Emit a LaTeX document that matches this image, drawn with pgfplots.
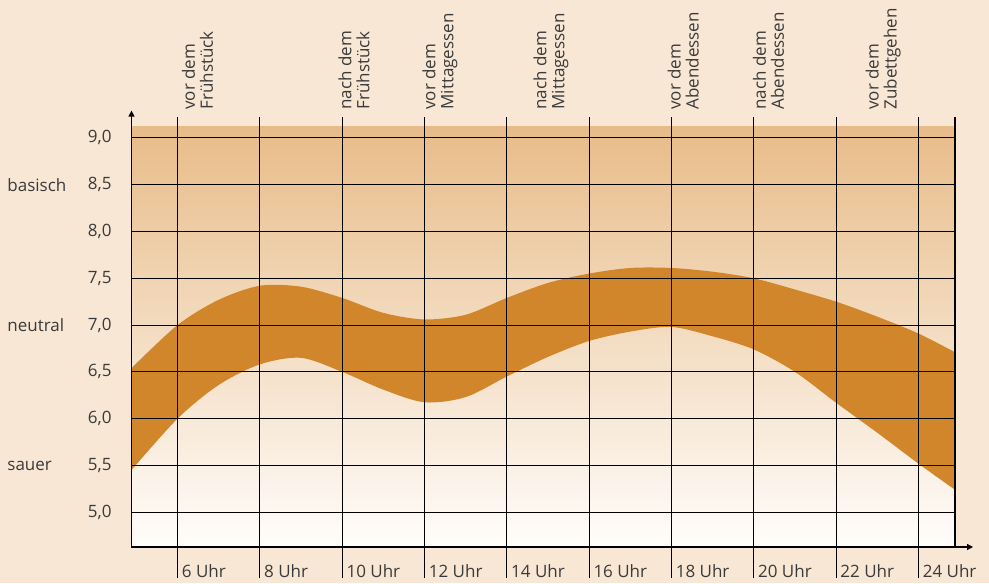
\documentclass[border=0pt]{standalone}
\usepackage{fontspec}
\setmainfont{Open Sans}
\usepackage{pgfplots}
\pgfplotsset{compat=1.18}
\usepgfplotslibrary{fillbetween}
\usetikzlibrary{arrows.meta}
\definecolor{bg}{HTML}{F8E7D4}
\definecolor{band}{HTML}{D2862B}
\definecolor{txt}{HTML}{3A3A3A}
\definecolor{shtop}{HTML}{E8BC89}
\definecolor{shmid}{HTML}{F1D8BA}
\definecolor{shbot}{HTML}{FFFDFB}
\begin{document}
\begin{tikzpicture}[font=\fontsize{8.5}{9}\selectfont]
\fill[bg] (-65.75pt,-18pt) rectangle (428.75pt,273.5pt);
\begin{axis}[
  at={(0pt,0pt)}, anchor=south west,
  scale only axis, width=411.75pt, height=210pt,
  xmin=4.882, xmax=24.89, ymin=4.629, ymax=9.116,
  clip=false,
  axis line style={draw=none},
  major tick length=0pt,
  xtick={6,8,10,12,14,16,18,20,22,24},
  xticklabels={6 Uhr,8 Uhr,10 Uhr,12 Uhr,14 Uhr,16 Uhr,18 Uhr,20 Uhr,22 Uhr,24 Uhr},
  ytick={5,5.5,6,6.5,7,7.5,8,8.5,9},
  yticklabel style={/pgf/number format/fixed, /pgf/number format/fixed zerofill, /pgf/number format/precision=1, /pgf/number format/use comma, /pgf/number format/assume math mode=true},
  yticklabel style={anchor=east, inner sep=0pt, xshift=-9.75pt, text=txt},
  xticklabel style={anchor=west, inner sep=0pt, xshift=2pt, yshift=-12.25pt, text=txt},
]
\shade[top color=shtop, middle color=shmid, bottom color=shbot] (rel axis cs:0,0) rectangle (rel axis cs:1,1);

\addplot[name path=up, draw=none, smooth] coordinates {
 (4.882,6.54) (6,7.0) (7,7.27) (8,7.42) (9,7.41) (10,7.29)
 (11,7.13) (12,7.06) (13,7.11) (14,7.29) (15,7.45) (16,7.55) (17,7.61)
 (18,7.61) (19,7.57) (20,7.5) (21,7.38) (22,7.25) (23,7.09) (24,6.91) (24.89,6.71)};
\addplot[name path=lo, draw=none, smooth] coordinates {
 (4.882,5.45) (6,6.0) (7,6.36) (8,6.58) (9,6.65) (10,6.5)
 (11,6.31) (12,6.175) (13,6.23) (14,6.45) (15,6.66) (16,6.83) (17,6.93)
 (18,6.98) (19,6.88) (20,6.74) (21,6.5) (22,6.17) (23,5.85) (24,5.52) (24.89,5.24)};
\addplot[band, draw=none] fill between[of=up and lo, on layer=main];

\pgfplotsinvokeforeach{5,5.5,6,6.5,7,7.5,8,8.5,9}{
  \draw[black, line width=0.55pt] (axis cs:4.882,#1) -- (axis cs:24.89,#1);
}
\pgfplotsinvokeforeach{6,8,10,12,14,16,18,20,22,24}{
  \draw[black, line width=0.55pt] (axis cs:#1,4.629) ++(0pt,-15.5pt) -- ++(0pt,230.5pt);
}
\draw[black, line width=0.55pt] (axis cs:24.89,4.629) -- ++(0pt,215pt);
\draw[black, line width=0.55pt, -{Triangle[length=3pt,width=3pt]}] (axis cs:4.882,4.629) -- ++(0pt,218.2pt);
\draw[black, line width=0.55pt, -{Triangle[length=3pt,width=3pt]}] (axis cs:4.882,4.629) -- ++(420.75pt,0pt);

\node[anchor=west, inner sep=0pt, text=txt] at (axis cs:1.857,8.5) {basisch};
\node[anchor=west, inner sep=0pt, text=txt] at (axis cs:1.857,7.0) {neutral};
\node[anchor=west, inner sep=0pt, text=txt] at (axis cs:1.857,5.5) {sauer};

\node[rotate=90, anchor=north west, inner sep=0pt, align=left, text=txt] at (axis cs:6.10,9.298) {vor dem\\Frühstück};
\node[rotate=90, anchor=north west, inner sep=0pt, align=left, text=txt] at (axis cs:9.90,9.298) {nach dem\\Frühstück};
\node[rotate=90, anchor=north west, inner sep=0pt, align=left, text=txt] at (axis cs:11.94,9.298) {vor dem\\Mittagessen};
\node[rotate=90, anchor=north west, inner sep=0pt, align=left, text=txt] at (axis cs:14.64,9.298) {nach dem\\Mittagessen};
\node[rotate=90, anchor=north west, inner sep=0pt, align=left, text=txt] at (axis cs:17.90,9.298) {vor dem\\Abendessen};
\node[rotate=90, anchor=north west, inner sep=0pt, align=left, text=txt] at (axis cs:19.97,9.298) {nach dem\\Abendessen};
\node[rotate=90, anchor=north west, inner sep=0pt, align=left, text=txt] at (axis cs:22.71,9.298) {vor dem\\Zubettgehen};
\end{axis}
\end{tikzpicture}
\end{document}
